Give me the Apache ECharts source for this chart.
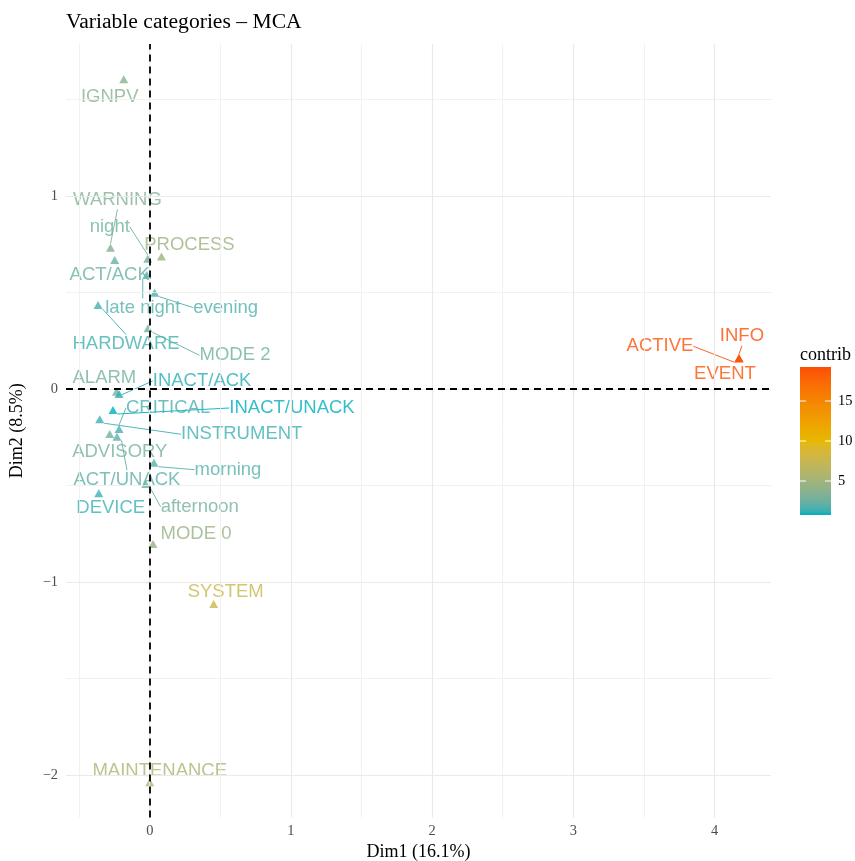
<!DOCTYPE html>
<html><head><meta charset="utf-8">
<script src="https://cdn.jsdelivr.net/npm/echarts@6/dist/echarts.min.js"></script>
<style>html,body{margin:0;padding:0;background:#fff}#c{width:855px;height:861px}</style>
</head><body><div id="c"></div>
<script>
// ---------------- data ----------------
const categories = ["IGNPV","WARNING","night","PROCESS","ACT/ACK","late night","evening","HARDWARE","MODE 2","ALARM","INACT/ACK","INACT/UNACK","CRITICAL","INSTRUMENT","ADVISORY","ACT/UNACK","morning","afternoon","DEVICE","MODE 0","SYSTEM","MAINTENANCE","INFO","ACTIVE","EVENT"];
const dim1 = [-0.184,-0.278,-0.014,0.083,-0.248,-0.021,0.035,-0.366,-0.012,-0.236,-0.217,-0.260,-0.217,-0.354,-0.283,-0.232,0.030,-0.028,-0.361,0.023,0.453,0.000,4.173,4.173,4.173];
const dim2 = [1.605,0.731,0.674,0.686,0.668,0.591,0.499,0.435,0.314,-0.014,-0.026,-0.109,-0.207,-0.157,-0.233,-0.247,-0.382,-0.492,-0.540,-0.803,-1.114,-2.038,0.159,0.159,0.159];
const contrib = [3.7,3.4,2.6,4.6,2.3,1.8,1.6,1.4,2.6,2.8,1.0,0.75,1.5,1.3,2.8,2.0,1.8,2.8,1.3,4.4,7.6,5.6,19.25,19.0,18.8];
const xTicks = [0,1,2,3,4];
const yTicks = [-2,-1,0,1];
const xMinorGrid = [-0.5,0.5,1.5,2.5,3.5];
const yMinorGrid = [-1.5,-0.5,0.5,1.5];
const legendTicks = [5,10,15];
const gradientColors = ['#00AFBB','#E7B800','#FC4E07'];
// label layout: [dx px, dy px, draw segment]
const labelOffsets = [[-14,18,0],[7,-48,1],[-38,-32,1],[28,-12,0],[-5,15,0],[-4,33,1],[71,15,1],[28,39,1],[87,27,1],[-12,-14,0],[83,-13,1],[179,-2,1],[49,-21,1],[142,15,1],[10,18,0],[10,43,1],[74,7,1],[54,23,1],[12,15,0],[43,-10,0],[12,-12,0],[10,-11,0],[3,-22,1],[-79,-12,1],[-14,16,0]];

// ---------------- colour helpers (CIELAB interpolation like ggplot) ----------------
function hexToRgb(h){h=h.replace('#','');return [0,2,4].map(i=>parseInt(h.substr(i,2),16));}
function toLin(c){c/=255;return c<=0.04045?c/12.92:Math.pow((c+0.055)/1.055,2.4);}
function fromLin(c){c=c<=0.0031308?12.92*c:1.055*Math.pow(c,1/2.4)-0.055;return Math.max(0,Math.min(255,Math.round(c*255)));}
const Wn=[0.95047,1,1.08883];
function rgbToLab(rgb){const [r,g,b]=rgb.map(toLin);
  const X=(0.4124564*r+0.3575761*g+0.1804375*b)/Wn[0],Y=(0.2126729*r+0.7151522*g+0.0721750*b)/Wn[1],Z=(0.0193339*r+0.1191920*g+0.9503041*b)/Wn[2];
  const f=t=>t>0.008856?Math.cbrt(t):7.787*t+16/116;const fx=f(X),fy=f(Y),fz=f(Z);
  return [116*fy-16,500*(fx-fy),200*(fy-fz)];}
function labToRgb(lab){const fy=(lab[0]+16)/116,fx=fy+lab[1]/500,fz=fy-lab[2]/200;
  const fi=t=>t>0.206893?t*t*t:(t-16/116)/7.787;const X=fi(fx)*Wn[0],Y=fi(fy)*Wn[1],Z=fi(fz)*Wn[2];
  const r=3.2404542*X-1.5371385*Y-0.4985314*Z,g=-0.9692660*X+1.8760108*Y+0.0415560*Z,b=0.0556434*X-0.2040259*Y+1.0572252*Z;
  return [r,g,b].map(fromLin);}
const labStops = gradientColors.map(c=>rgbToLab(hexToRgb(c)));
const cMin = Math.min(...contrib), cMax = Math.max(...contrib);
function colorAt(t){t=Math.max(0,Math.min(1,t));const n=labStops.length-1;let i=Math.min(n-1,Math.floor(t*n));const u=t*n-i;
  const a=labStops[i],b=labStops[i+1];const rgb=labToRgb([0,1,2].map(k=>a[k]+(b[k]-a[k])*u));return 'rgb('+rgb.join(',')+')';}
function colorFor(v){return colorAt((v-cMin)/(cMax-cMin));}

// ---------------- scales ----------------
const xr=[Math.min(...dim1),Math.max(...dim1)], yr=[Math.min(...dim2),Math.max(...dim2)];
const xPad=(xr[1]-xr[0])*0.05, yPad=(yr[1]-yr[0])*0.05;
const xMin=xr[0]-xPad,xMax=xr[1]+xPad,yMin=yr[0]-yPad,yMax=yr[1]+yPad;

const serif='"Liberation Serif","DejaVu Serif",serif';
const sans='"Liberation Sans",Arial,sans-serif';
const minus=v=>String(v).replace('-','\u2212');

const points = categories.map((name,i)=>{const col=colorFor(contrib[i]);return {
  name, value:[dim1[i],dim2[i],contrib[i]],
  itemStyle:{color:col}, label:{color:col},
  labelLine:{show:!!labelOffsets[i][2],lineStyle:{color:col,width:0.9}}
};});

const gridLines = [
  ...xMinorGrid.map(v=>({xAxis:v,lineStyle:{color:'#EDEDED',width:0.8,type:'solid'}})),
  ...yMinorGrid.map(v=>({yAxis:v,lineStyle:{color:'#EDEDED',width:0.8,type:'solid'}})),
  ...xTicks.map(v=>({xAxis:v,lineStyle:{color:'#EAEAEA',width:1.2,type:'solid'}})),
  ...yTicks.map(v=>({yAxis:v,lineStyle:{color:'#EAEAEA',width:1.2,type:'solid'}}))
];

// legend colourbar
const bar={left:800,top:367,w:31,h:148};
const stops=[];for(let k=0;k<=40;k++){stops.push({offset:k/40,color:colorAt(k/40)});}
const vToY=v=>bar.top+bar.h-(v-cMin)/(cMax-cMin)*bar.h;
const legendGraphics=[
  {type:'text',left:bar.left,top:bar.top-21,style:{text:'contrib',font:'18px '+serif,fill:'#000'}},
  {type:'rect',shape:{x:bar.left,y:bar.top,width:bar.w,height:bar.h},style:{fill:{type:'linear',x:0,y:1,x2:0,y2:0,colorStops:stops}}},
  ...legendTicks.flatMap(v=>[
    {type:'line',shape:{x1:bar.left,y1:vToY(v),x2:bar.left+6,y2:vToY(v)},style:{stroke:'#fff',lineWidth:1}},
    {type:'line',shape:{x1:bar.left+bar.w-6,y1:vToY(v),x2:bar.left+bar.w,y2:vToY(v)},style:{stroke:'#fff',lineWidth:1}},
    {type:'text',x:bar.left+bar.w+7,y:vToY(v),style:{text:String(v),font:'14.4px '+serif,fill:'#000',verticalAlign:'middle',textAlign:'left'}}
  ])
];

const chart=echarts.init(document.getElementById('c'),null,{renderer:'canvas'});
chart.setOption({
  animation:false,
  backgroundColor:'#fff',
  title:{text:'Variable categories \u2013 MCA',left:66,top:11,padding:0,textStyle:{fontFamily:serif,fontSize:21.6,fontWeight:'normal',color:'#000'}},
  grid:{left:66,right:84,top:44,bottom:43.5,containLabel:false,outerBoundsMode:'none'},
  xAxis:{type:'value',min:xMin,max:xMax,
    name:'Dim1 (16.1%)',nameLocation:'middle',nameGap:25,nameTextStyle:{fontFamily:serif,fontSize:18,color:'#000'},
    axisLine:{show:false},splitLine:{show:false},
    axisTick:{show:true,customValues:xTicks,length:4,lineStyle:{color:'#333',width:1.1}},
    axisLabel:{customValues:xTicks,margin:7,fontFamily:serif,fontSize:14.4,color:'#4D4D4D',formatter:minus}},
  yAxis:{type:'value',min:yMin,max:yMax,
    name:'Dim2 (8.5%)',nameLocation:'middle',nameGap:40,nameTextStyle:{fontFamily:serif,fontSize:18,color:'#000'},
    axisLine:{show:false},splitLine:{show:false},
    axisTick:{show:true,customValues:yTicks,length:4,lineStyle:{color:'#333',width:1.1}},
    axisLabel:{customValues:yTicks,margin:8,fontFamily:serif,fontSize:14.4,color:'#4D4D4D',formatter:minus}},
  graphic:legendGraphics,
  series:[
    {type:'line',data:[],z:1,silent:true,markLine:{silent:true,symbol:['none','none'],label:{show:false},emphasis:{disabled:true},data:gridLines}},
    {type:'line',data:[],z:2,silent:true,markLine:{silent:true,symbol:['none','none'],label:{show:false},emphasis:{disabled:true},
      lineStyle:{color:'#000',width:1.8,type:[7,5]},data:[{xAxis:0},{yAxis:0}]}},
    {type:'scatter',z:3,symbol:'triangle',symbolSize:[9,8],data:points,
      label:{show:true,position:'inside',formatter:'{b}',fontFamily:sans,fontSize:18.5,textBorderWidth:0,textShadowBlur:0},
      labelLine:{show:true,length2:0,smooth:false},
      labelLayout:p=>({dx:labelOffsets[p.dataIndex][0],dy:labelOffsets[p.dataIndex][1]}),
      emphasis:{disabled:true}}
  ]
});
</script></body></html>
